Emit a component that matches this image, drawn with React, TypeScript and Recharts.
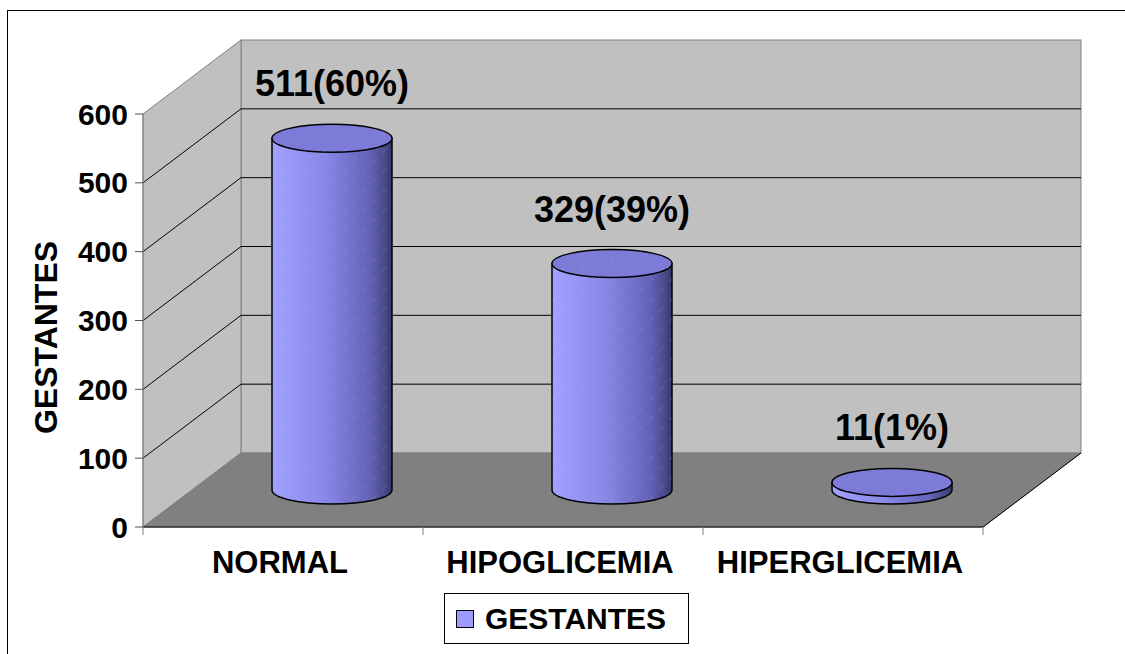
import React from "react";
import {
  BarChart,
  Bar,
  XAxis,
  YAxis,
  ReferenceArea,
  ReferenceLine,
  LabelList,
  Legend,
} from "recharts";

const categories = ["NORMAL", "HIPOGLICEMIA", "HIPERGLICEMIA"];
const gestantes = [511, 329, 11];
const percents = [60, 39, 1];
const yTicks = [0, 100, 200, 300, 400, 500, 600];
const gridValues = [100, 200, 300, 400, 500];

const data = categories.map((name, i) => ({
  name,
  gestantes: gestantes[i],
  pct: percents[i],
}));

// depth of the fake 3d box
const DX = 98;
const DY = -74;
const FONT = "'Liberation Sans', Arial, sans-serif";

const Walls = (props: any) => {
  const { x, y, width, height } = props;
  const b = y + height;
  const r = x + width;
  return (
    <g>
      <rect x={x + DX} y={y + DY} width={width} height={height} fill="#C0C0C0" stroke="#808080" />
      <polygon
        points={`${x},${y} ${x + DX},${y + DY} ${x + DX},${b + DY} ${x},${b}`}
        fill="#C0C0C0"
        stroke="#808080"
      />
      <polygon
        points={`${x},${b} ${x + DX},${b + DY} ${r + DX},${b + DY} ${r},${b}`}
        fill="#808080"
        stroke="#808080"
      />
      <line x1={r} y1={b} x2={r + DX} y2={b + DY} stroke="#000" />
    </g>
  );
};

const GridLine = (props: any) => {
  const { x1, y1, x2 } = props;
  return (
    <path
      d={`M${x1},${y1} L${x1 + DX},${y1 + DY} L${x2 + DX},${y1 + DY}`}
      fill="none"
      stroke="#000"
      strokeWidth={1}
    />
  );
};

const Cylinder = (props: any) => {
  const { x, y, width, height } = props;
  const rx = width / 2;
  const ry = 14;
  const cx = x + rx + DX / 2;
  const top = y + DY / 2;
  const bot = y + height + DY / 2;
  const body = `M${cx - rx},${top} L${cx - rx},${bot} A${rx},${ry} 0 0 0 ${cx + rx},${bot} L${cx + rx},${top} Z`;
  return (
    <g>
      <path d={body} fill="url(#cylGrad)" stroke="#000" strokeWidth={1.5} />
      <path d={body} fill="url(#hatch)" />
      <ellipse cx={cx} cy={top} rx={rx} ry={ry} fill="#7C7CD8" stroke="#000" strokeWidth={1.5} />
      <ellipse cx={cx} cy={top} rx={rx} ry={ry} fill="url(#hatch)" />
    </g>
  );
};

const ValueLabel = (props: any) => {
  const { x, y, width, index } = props;
  const cx = x + width / 2 + DX / 2;
  return (
    <text
      x={cx}
      y={y - 79}
      textAnchor="middle"
      fontFamily={FONT}
      fontWeight="bold"
      fontSize={36}
      fill="#000"
    >
      {`${gestantes[index]}(${percents[index]}%)`}
    </text>
  );
};

const CategoryTick = (props: any) => {
  const { x, y, payload, index } = props;
  const half = payload && payload.offset ? payload.offset : 140;
  const last = index === categories.length - 1;
  return (
    <g>
      <line x1={x - half} y1={y} x2={x - half} y2={y + 8} stroke="#808080" />
      {last && <line x1={x + half} y1={y} x2={x + half} y2={y + 8} stroke="#808080" />}
      <text
        x={x - 3}
        y={y + 46}
        textAnchor="middle"
        fontFamily={FONT}
        fontWeight="bold"
        fontSize={31}
        fill="#000"
      >
        {payload.value}
      </text>
    </g>
  );
};

const AxisTitle = (props: any) => {
  const vb = props.viewBox || { x: 0, y: 114, width: 143, height: 413 };
  const cy = vb.y + vb.height / 2 + 17;
  return (
    <text
      x={57}
      y={cy}
      transform={`rotate(-90, 57, ${cy})`}
      textAnchor="middle"
      fontFamily={FONT}
      fontWeight="bold"
      fontSize={32}
      fill="#000"
    >
      GESTANTES
    </text>
  );
};

const LegendBox = () => (
  <div
    style={{
      width: 243,
      height: 49,
      border: "1px solid #000",
      background: "#fff",
      display: "flex",
      alignItems: "center",
      fontFamily: FONT,
      fontWeight: "bold",
      fontSize: 30,
      color: "#000",
    }}
  >
    <span
      style={{
        display: "inline-block",
        width: 16,
        height: 16,
        marginLeft: 11,
        marginRight: 11,
        border: "1px solid #000",
        background: "#9C9CFF",
      }}
    />
    <span>GESTANTES</span>
  </div>
);

export default function App() {
  return (
    <div style={{ position: "absolute", left: 0, top: 0, width: 1125, height: 654, overflow: "hidden", background: "#fff" }}>
      <div
        style={{
          position: "absolute",
          left: 7,
          top: 10,
          width: 1200,
          height: 700,
          borderLeft: "1px solid #000",
          borderTop: "1px solid #000",
        }}
      />
      <div style={{ position: "absolute", left: 0, top: 0 }}>
        <BarChart
          width={1125}
          height={654}
          data={data}
          margin={{ top: 114, right: 142, left: 0, bottom: 67 }}
          barSize={120}
        >
          <defs>
            <linearGradient id="cylGrad" x1="0" y1="0" x2="1" y2="0">
              <stop offset="0%" stopColor="#A2A2FF" />
              <stop offset="45%" stopColor="#8787E6" />
              <stop offset="82%" stopColor="#6262B6" />
              <stop offset="94%" stopColor="#4A4A8C" />
              <stop offset="100%" stopColor="#363668" />
            </linearGradient>
            <pattern id="hatch" width="14" height="14" patternUnits="userSpaceOnUse" patternTransform="rotate(45)">
              <line x1="0" y1="0" x2="0" y2="6" stroke="#D08CFF" strokeWidth="1.2" opacity="0.35" />
            </pattern>
          </defs>
          <ReferenceArea y1={0} y2={600} shape={<Walls />} zIndex={-60} ifOverflow="visible" />
          {gridValues.map((v) => (
            <ReferenceLine key={v} y={v} shape={<GridLine />} zIndex={-50} />
          ))}
          <XAxis
            dataKey="name"
            height={60}
            tickSize={0}
            tickMargin={0}
            axisLine={{ stroke: "#000" }}
            tickLine={false}
            tick={<CategoryTick />}
            interval={0}
          />
          <YAxis
            width={143}
            domain={[0, 600]}
            ticks={yTicks}
            tickSize={8}
            tickMargin={7}
            axisLine={{ stroke: "#808080" }}
            tickLine={{ stroke: "#505050" }}
            tick={{ fontFamily: FONT, fontWeight: "bold", fontSize: 30, fill: "#000" }}
            label={{ content: <AxisTitle /> }}
          />
          <Legend
            verticalAlign="middle"
            align="center"
            content={<LegendBox />}
            wrapperStyle={{ position: "absolute", left: 444, top: 593, width: 245, height: 51 }}
          />
          <Bar dataKey="gestantes" shape={<Cylinder />} isAnimationActive={false}>
            <LabelList dataKey="gestantes" content={<ValueLabel />} />
          </Bar>
        </BarChart>
      </div>
    </div>
  );
}
